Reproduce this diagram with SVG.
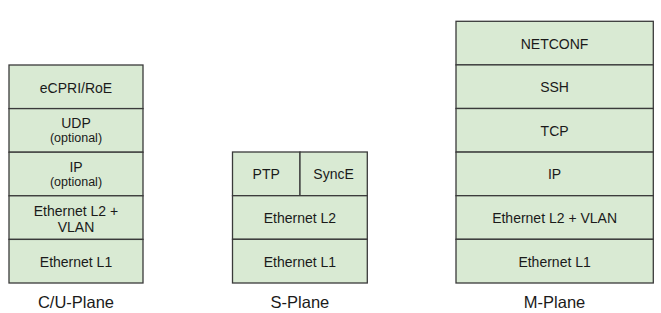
<svg xmlns="http://www.w3.org/2000/svg" width="661" height="313" viewBox="0 0 661 313">
<style>
.cell{fill:#d9ead3;stroke:#3a3a3a;stroke-width:1.3}
.t{font-family:"Liberation Sans",Arial,sans-serif;font-size:14px;fill:#1a1a1a;text-anchor:middle}
.s{font-family:"Liberation Sans",Arial,sans-serif;font-size:12.5px;fill:#1a1a1a;text-anchor:middle}
.lbl{font-family:"Liberation Sans",Arial,sans-serif;font-size:16.5px;fill:#1a1a1a;text-anchor:middle}
</style>
<rect width="661" height="313" fill="#ffffff"/>
<g id="cu-plane">
  <g id="cu-ecpri"><rect class="cell" x="9" y="65" width="134" height="43.6"/><text class="t" x="76" y="93">eCPRI/RoE</text></g>
  <g id="cu-udp"><rect class="cell" x="9" y="108.6" width="134" height="43.6"/><text class="t" x="76" y="128.3">UDP</text><text class="s" x="76" y="142.3">(optional)</text></g>
  <g id="cu-ip"><rect class="cell" x="9" y="152.2" width="134" height="43.6"/><text class="t" x="76" y="171.9">IP</text><text class="s" x="76" y="185.9">(optional)</text></g>
  <g id="cu-l2"><rect class="cell" x="9" y="195.8" width="134" height="43.6"/><text class="t" x="76" y="215.7">Ethernet L2 +</text><text class="t" x="76" y="231.7">VLAN</text></g>
  <g id="cu-l1"><rect class="cell" x="9" y="239.4" width="134" height="43.6"/><text class="t" x="76" y="266.7">Ethernet L1</text></g>
  <text class="lbl" x="76" y="308.3">C/U-Plane</text>
</g>
<g id="s-plane">
  <g id="s-ptp"><rect class="cell" x="232.5" y="152" width="67.5" height="43.7"/><text class="t" x="266.2" y="179.3">PTP</text></g>
  <g id="s-synce"><rect class="cell" x="300" y="152" width="67.3" height="43.7"/><text class="t" x="333.6" y="179.3">SyncE</text></g>
  <g id="s-l2"><rect class="cell" x="232.5" y="195.7" width="134.8" height="43.6"/><text class="t" x="299.9" y="223">Ethernet L2</text></g>
  <g id="s-l1"><rect class="cell" x="232.5" y="239.3" width="134.8" height="43.7"/><text class="t" x="299.9" y="266.7">Ethernet L1</text></g>
  <text class="lbl" x="299.9" y="308.3">S-Plane</text>
</g>
<g id="m-plane">
  <g id="m-netconf"><rect class="cell" x="456" y="21.3" width="197.3" height="43.6"/><text class="t" x="554.6" y="48.6">NETCONF</text></g>
  <g id="m-ssh"><rect class="cell" x="456" y="64.9" width="197.3" height="43.6"/><text class="t" x="554.6" y="92.2">SSH</text></g>
  <g id="m-tcp"><rect class="cell" x="456" y="108.5" width="197.3" height="43.6"/><text class="t" x="554.6" y="135.8">TCP</text></g>
  <g id="m-ip"><rect class="cell" x="456" y="152.1" width="197.3" height="43.6"/><text class="t" x="554.6" y="179.4">IP</text></g>
  <g id="m-l2"><rect class="cell" x="456" y="195.7" width="197.3" height="43.6"/><text class="t" x="554.6" y="223">Ethernet L2 + VLAN</text></g>
  <g id="m-l1"><rect class="cell" x="456" y="239.3" width="197.3" height="43.7"/><text class="t" x="554.6" y="266.7">Ethernet L1</text></g>
  <text class="lbl" x="554.6" y="308.3">M-Plane</text>
</g>
<g id="connectors"/>
</svg>
